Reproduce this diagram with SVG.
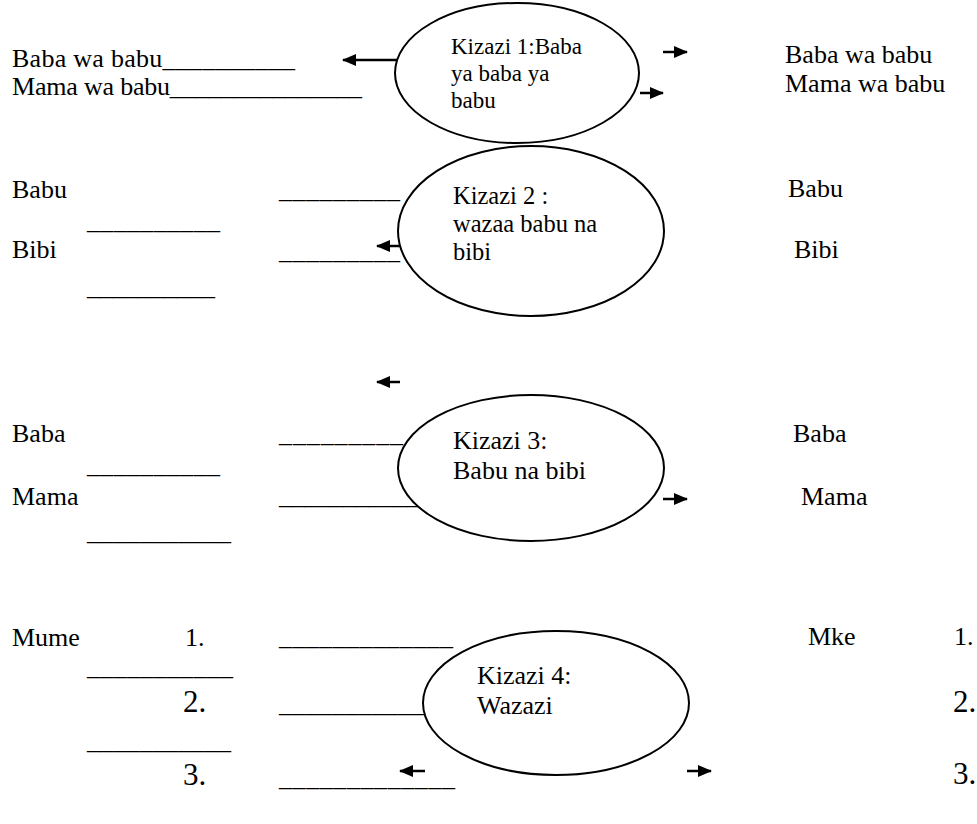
<svg xmlns="http://www.w3.org/2000/svg" width="977" height="824" viewBox="0 0 977 824">
<style>
  text { font-family: "Liberation Serif", "Times New Roman", serif; fill: #000; }
  .t { font-size: 26px; }
  .k2 { font-size: 24.5px; }
  .s { font-size: 23px; }
  .n { font-size: 31px; }
  .u { font-size: 26px; }
  .node { fill: #fff; stroke: #000; stroke-width: 2; }
  .arr { stroke: #000; stroke-width: 2.5; fill: none; marker-end: url(#ah); }
</style>
<defs>
  <marker id="ah" markerUnits="userSpaceOnUse" viewBox="0 0 14 12" refX="13" refY="6" markerWidth="14" markerHeight="12" orient="auto">
    <path d="M0,0 L14,6 L0,12 z" fill="#000"/>
  </marker>
</defs>
<rect width="977" height="824" fill="#fff"/>

<g id="labels-left">
  <text class="t" x="12" y="67" textLength="283" lengthAdjust="spacing">Baba wa babu__________</text>
  <text class="t" x="12" y="95" textLength="350" lengthAdjust="spacing">Mama wa babu_______________</text>
  <text class="t" x="12" y="198">Babu</text>
  <text class="t" x="12" y="258">Bibi</text>
  <text class="t" x="12" y="442">Baba</text>
  <text class="t" x="12" y="505">Mama</text>
  <text class="t" x="12" y="646">Mume</text>
  <text class="t" x="185" y="646">1.</text>
  <text class="n" x="183" y="712">2.</text>
  <text class="n" x="183" y="785">3.</text>
</g>

<g id="blanks">
  <text class="u" x="87" y="229" textLength="133" lengthAdjust="spacing">__________</text>
  <text class="u" x="87" y="295" textLength="128" lengthAdjust="spacing">__________</text>
  <text class="u" x="279" y="198" textLength="121" lengthAdjust="spacing">_________</text>
  <text class="u" x="279" y="259" textLength="121" lengthAdjust="spacing">_________</text>
  <text class="u" x="87" y="473" textLength="133" lengthAdjust="spacing">__________</text>
  <text class="u" x="87" y="540" textLength="144" lengthAdjust="spacing">___________</text>
  <text class="u" x="279" y="442" textLength="124" lengthAdjust="spacing">_________</text>
  <text class="u" x="279" y="504" textLength="141" lengthAdjust="spacing">___________</text>
  <text class="u" x="279" y="645" textLength="174" lengthAdjust="spacing">_____________</text>
  <text class="u" x="87" y="675" textLength="146" lengthAdjust="spacing">___________</text>
  <text class="u" x="279" y="712" textLength="145" lengthAdjust="spacing">___________</text>
  <text class="u" x="87" y="749" textLength="144" lengthAdjust="spacing">___________</text>
  <text class="u" x="279" y="786" textLength="176" lengthAdjust="spacing">_____________</text>
</g>

<g id="connectors">
  <line class="arr" x1="398" y1="60" x2="343" y2="60"/>
  <line class="arr" x1="663" y1="52" x2="687" y2="52"/>
  <line class="arr" x1="640" y1="93" x2="663" y2="93"/>
  <line class="arr" x1="400" y1="246" x2="377" y2="246"/>
  <line class="arr" x1="400" y1="382" x2="377" y2="382"/>
  <line class="arr" x1="663" y1="499" x2="687" y2="499"/>
  <line class="arr" x1="425" y1="771" x2="400" y2="771"/>
  <line class="arr" x1="687" y1="771" x2="711" y2="771"/>
</g>

<g id="gen1">
  <ellipse class="node" cx="517" cy="73" rx="122" ry="70"/>
  <text class="s" x="451" y="54">Kizazi 1:Baba</text>
  <text class="s" x="451" y="81">ya baba ya</text>
  <text class="s" x="451" y="108">babu</text>
</g>
<g id="gen2">
  <ellipse class="node" cx="531" cy="231" rx="133" ry="85"/>
  <text class="k2" x="453" y="204">Kizazi 2 :</text>
  <text class="k2" x="453" y="232">wazaa babu na</text>
  <text class="k2" x="453" y="260">bibi</text>
</g>
<g id="gen3">
  <ellipse class="node" cx="531" cy="468" rx="133" ry="73"/>
  <text class="t" x="453" y="449">Kizazi 3:</text>
  <text class="t" x="453" y="479">Babu na bibi</text>
</g>
<g id="gen4">
  <ellipse class="node" cx="556" cy="703" rx="133" ry="72"/>
  <text class="t" x="477" y="684">Kizazi 4:</text>
  <text class="t" x="477" y="714">Wazazi</text>
</g>

<g id="labels-right">
  <text class="t" x="785" y="63">Baba wa babu</text>
  <text class="t" x="785" y="92">Mama wa babu</text>
  <text class="t" x="788" y="197">Babu</text>
  <text class="t" x="794" y="258">Bibi</text>
  <text class="t" x="793" y="442">Baba</text>
  <text class="t" x="801" y="505">Mama</text>
  <text class="t" x="808" y="645">Mke</text>
  <text class="t" x="954" y="645">1.</text>
  <text class="n" x="953" y="712">2.</text>
  <text class="n" x="953" y="784">3.</text>
</g>
</svg>
